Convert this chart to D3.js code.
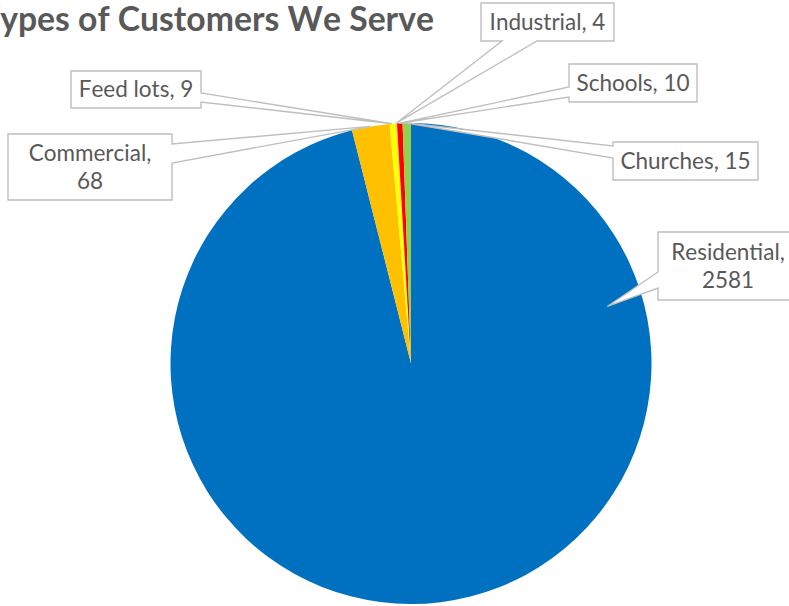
<!DOCTYPE html>
<html>
<head>
<meta charset="utf-8">
<script src="https://cdn.jsdelivr.net/npm/d3@7"></script>
<style>
  body { margin: 0; background: #fff; }
  svg { display: block; }
  text { font-kerning: none; }
</style>
</head>
<body>
<svg id="chart" width="789" height="606"></svg>
<script>
// chart values
const categories = ['Residential', 'Commercial', 'Feed lots', 'Industrial', 'Schools', 'Churches'];
const customers = [2581, 68, 9, 4, 10, 15];
const sliceColors = ['#0070C0', '#FFC000', '#FFFF00', '#FFF200', '#FF0000', '#92D050'];
const title = 'Types of Customers We Serve';

// callout boxes (layout only): box, which side the pointer leaves from, pointer base offsets
const callouts = {
  'Residential': { x: 658, y: 232, w: 140, h: 68, side: 'left', b0: 40, b1: 56, wrap: true, tipAngle: 73.8, tipK: 0.85 },
  'Commercial':  { x: 8,   y: 134, w: 164, h: 66, side: 'right', b0: 10, b1: 29, wrap: true },
  'Feed lots':   { x: 71,  y: 71,  w: 130, h: 37, side: 'right', b0: 22, b1: 31 },
  'Industrial':  { x: 481, y: 3,   w: 133, h: 38, side: 'bottom', b0: 21, b1: 56 },
  'Schools':     { x: 569, y: 64,  w: 128, h: 38, side: 'left', b0: 23, b1: 33 },
  'Churches':    { x: 613, y: 142, w: 145, h: 38, side: 'left', b0: 4, b1: 16 }
};

const svg = d3.select('#chart');
const cx = 411, cy = 363.5, radius = 240.5;
const textColor = '#595959', lineColor = '#BFBFBF';

const data = categories.map((c, i) => ({ label: c, value: customers[i], color: sliceColors[i] }));
const pie = d3.pie().sort(null).value(d => d.value);
const arc = d3.arc().innerRadius(0).outerRadius(radius);
const slices = pie(data);

const g = svg.append('g').attr('transform', `translate(${cx},${cy})`);
g.selectAll('path')
  .data(slices)
  .enter().append('path')
    .attr('d', arc)
    .attr('fill', d => d.data.color);

// title, the "T" runs off the page like in the original
const titleText = svg.append('text')
  .attr('font-family', 'Lato, "Open Sans", sans-serif')
  .attr('font-weight', 'bold')
  .attr('font-size', 32)
  .attr('fill', textColor)
  .text(title.slice(1));
const want = 434;
const fs = 32 * want / titleText.node().getComputedTextLength();
titleText.attr('font-size', fs).attr('text-anchor', 'end')
  .attr('x', want).attr('y', 31).text(title);

// pointer tip for a slice
function tipPoint(s, c) {
  const a = c.tipAngle != null ? c.tipAngle * Math.PI / 180 : (s.startAngle + s.endAngle) / 2;
  const r = radius * (c.tipK || 1);
  return [cx + r * Math.sin(a), cy - r * Math.cos(a)];
}

// callout outline going clockwise, with the wedge cut into one side
function calloutPath(c, tip) {
  const { x, y, w, h } = c;
  const p = d3.path();
  p.moveTo(x, y);
  p.lineTo(x + w, y);
  if (c.side === 'right') {
    p.lineTo(x + w, y + c.b0); p.lineTo(tip[0], tip[1]); p.lineTo(x + w, y + c.b1);
  }
  p.lineTo(x + w, y + h);
  if (c.side === 'bottom') {
    p.lineTo(x + c.b1, y + h); p.lineTo(tip[0], tip[1]); p.lineTo(x + c.b0, y + h);
  }
  p.lineTo(x, y + h);
  if (c.side === 'left') {
    p.lineTo(x, y + c.b1); p.lineTo(tip[0], tip[1]); p.lineTo(x, y + c.b0);
  }
  p.closePath();
  return p.toString();
}

const labels = svg.append('g');
slices.forEach(s => {
  const c = callouts[s.data.label];
  const tip = tipPoint(s, c);
  const lg = labels.append('g');
  lg.append('path')
    .attr('d', calloutPath(c, tip))
    .attr('fill', '#fff')
    .attr('stroke', lineColor)
    .attr('stroke-width', 1.4);

  const lines = c.wrap ? [s.data.label + ',', String(s.data.value)] : [`${s.data.label}, ${s.data.value}`];
  const midY = c.y + c.h / 2;
  const gap = 28;
  lines.forEach((t, i) => {
    lg.append('text')
      .attr('x', c.x + c.w / 2)
      .attr('y', midY + 7.5 + (i - (lines.length - 1) / 2) * gap)
      .attr('text-anchor', 'middle')
      .attr('font-family', 'Lato, "Open Sans", sans-serif')
      .attr('font-size', 22.5)
      .attr('fill', textColor)
      .text(t);
  });
});
</script>
</body>
</html>
